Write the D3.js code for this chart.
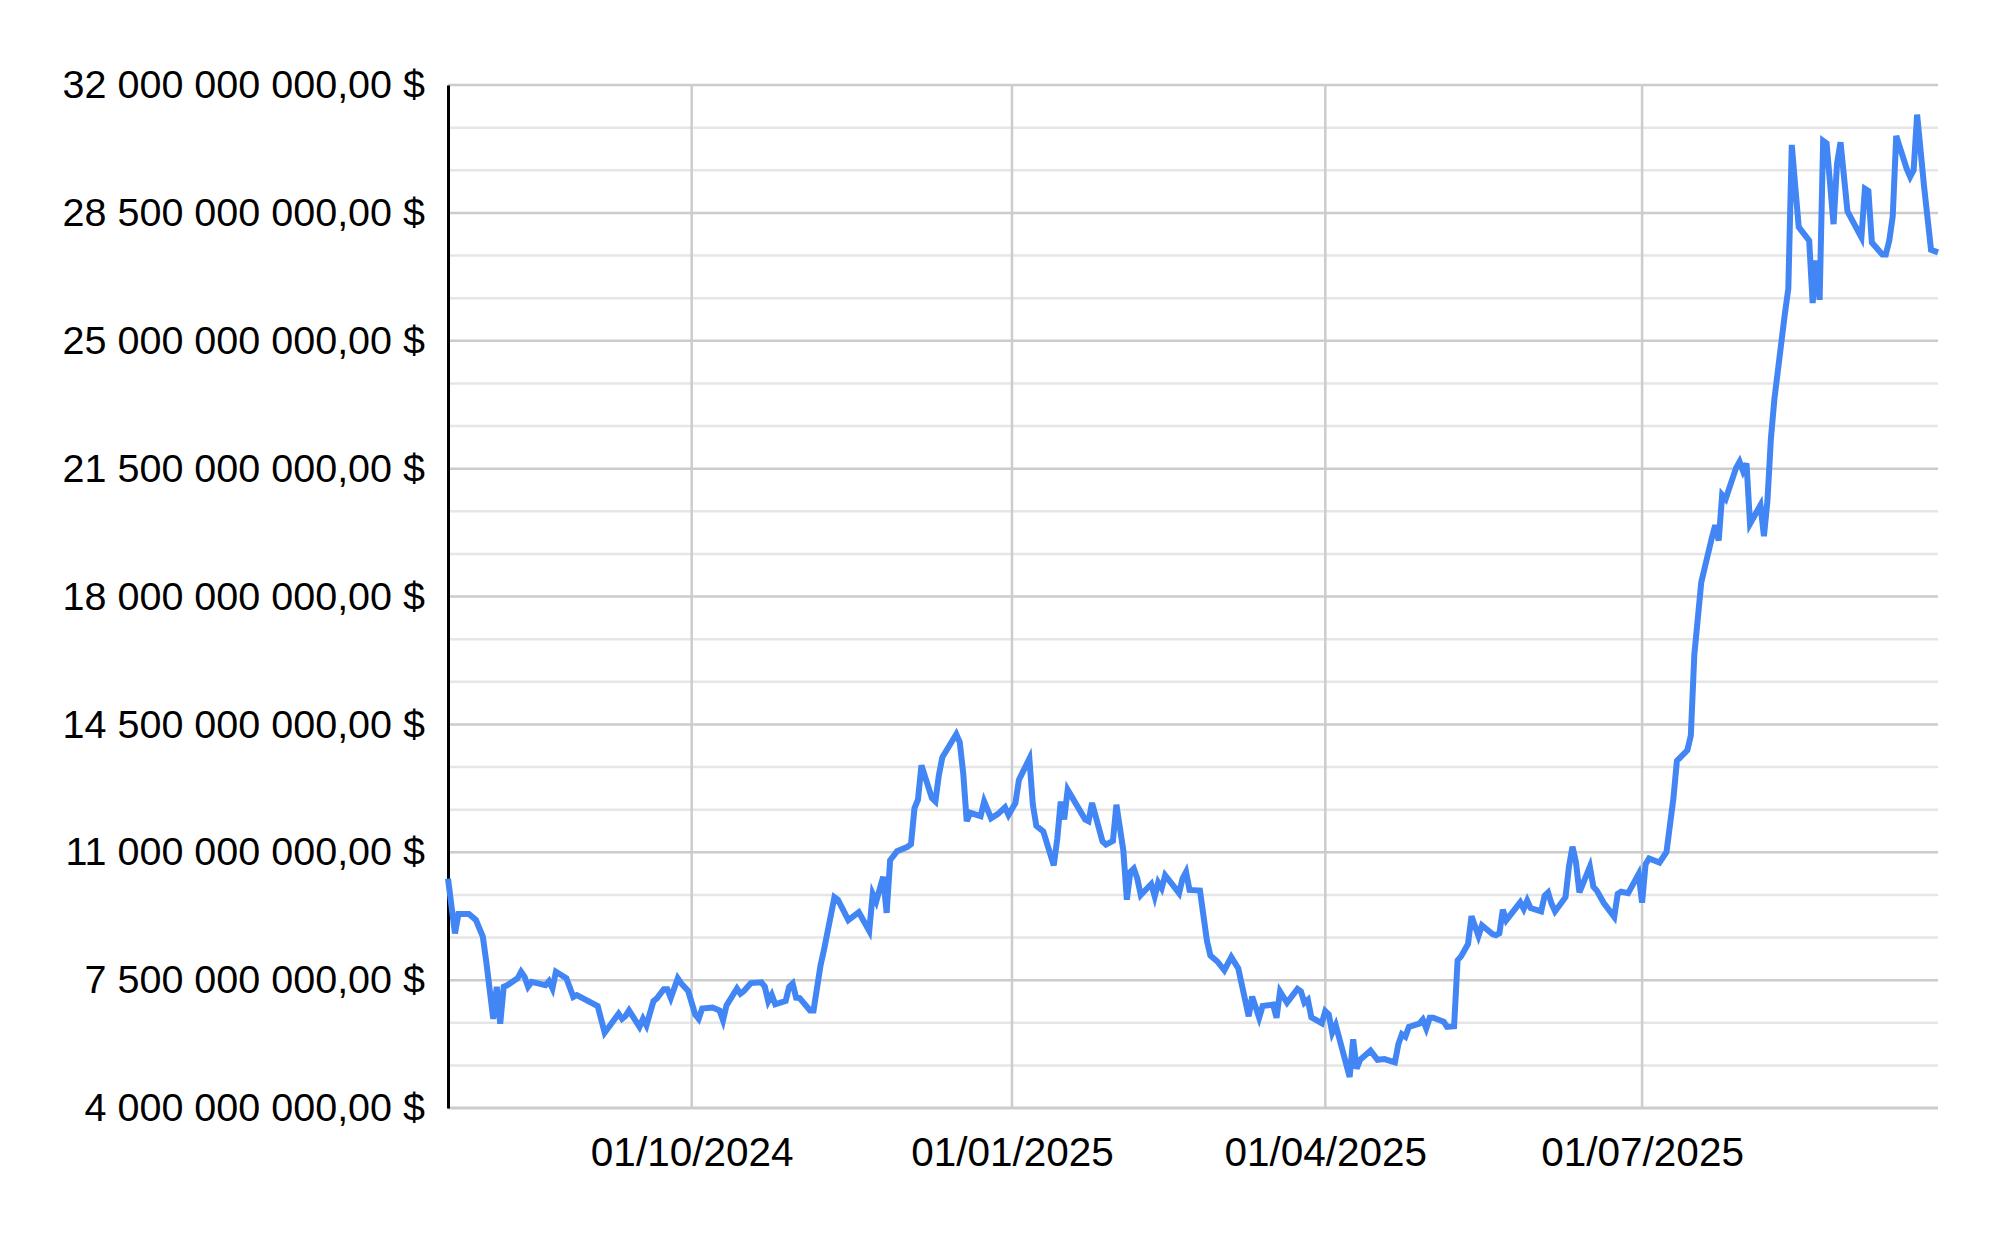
<!DOCTYPE html>
<html>
<head>
<meta charset="utf-8">
<script src="https://cdn.jsdelivr.net/npm/d3@7"></script>
<style>
  body { margin: 0; background: #fff; }
  svg { display: block; }
</style>
</head>
<body>
<div id="chart"></div>
<script>
// daily points (turning points only)
const dates = [
  "2024-07-23","2024-07-25","2024-07-26","2024-07-29","2024-07-31","2024-08-02","2024-08-03","2024-08-05",
  "2024-08-06","2024-08-07","2024-08-08","2024-08-09","2024-08-12","2024-08-13","2024-08-14","2024-08-15",
  "2024-08-16","2024-08-20","2024-08-21","2024-08-22","2024-08-23","2024-08-26","2024-08-28","2024-08-29",
  "2024-09-04","2024-09-06","2024-09-10","2024-09-11","2024-09-12","2024-09-13","2024-09-16","2024-09-17",
  "2024-09-18","2024-09-20","2024-09-21","2024-09-23","2024-09-24","2024-09-25","2024-09-27","2024-09-28",
  "2024-09-30","2024-10-02","2024-10-03","2024-10-04","2024-10-07","2024-10-09","2024-10-10","2024-10-11",
  "2024-10-14","2024-10-15","2024-10-16","2024-10-18","2024-10-21","2024-10-22","2024-10-23","2024-10-24",
  "2024-10-25","2024-10-28","2024-10-29","2024-10-30","2024-10-31","2024-11-01","2024-11-04","2024-11-05",
  "2024-11-07","2024-11-08","2024-11-11","2024-11-12","2024-11-15","2024-11-18","2024-11-21","2024-11-22",
  "2024-11-23","2024-11-25","2024-11-26","2024-11-27","2024-11-29","2024-12-02","2024-12-03","2024-12-04",
  "2024-12-05","2024-12-06","2024-12-09","2024-12-10","2024-12-11","2024-12-12","2024-12-16","2024-12-17",
  "2024-12-18","2024-12-19","2024-12-20","2024-12-23","2024-12-24","2024-12-26","2024-12-28","2024-12-30",
  "2024-12-31","2025-01-02","2025-01-03","2025-01-06","2025-01-07","2025-01-08","2025-01-10","2025-01-13",
  "2025-01-14","2025-01-15","2025-01-16","2025-01-17","2025-01-22","2025-01-23","2025-01-24","2025-01-27",
  "2025-01-28","2025-01-30","2025-01-31","2025-02-02","2025-02-03","2025-02-04","2025-02-05","2025-02-06",
  "2025-02-07","2025-02-10","2025-02-11","2025-02-12","2025-02-13","2025-02-14","2025-02-18","2025-02-19",
  "2025-02-20","2025-02-21","2025-02-24","2025-02-26","2025-02-27","2025-03-01","2025-03-03","2025-03-05",
  "2025-03-07","2025-03-10","2025-03-11","2025-03-13","2025-03-14","2025-03-17","2025-03-18","2025-03-19",
  "2025-03-21","2025-03-24","2025-03-25","2025-03-26","2025-03-27","2025-03-28","2025-03-31","2025-04-01",
  "2025-04-02","2025-04-03","2025-04-04","2025-04-08","2025-04-09","2025-04-10","2025-04-11","2025-04-14",
  "2025-04-16","2025-04-18","2025-04-21","2025-04-22","2025-04-23","2025-04-24","2025-04-25","2025-04-28",
  "2025-04-29","2025-04-30","2025-05-01","2025-05-02","2025-05-05","2025-05-06","2025-05-08","2025-05-09",
  "2025-05-10","2025-05-12","2025-05-13","2025-05-15","2025-05-16","2025-05-19","2025-05-20","2025-05-21",
  "2025-05-22","2025-05-23","2025-05-27","2025-05-28","2025-05-29","2025-05-30","2025-06-02","2025-06-03",
  "2025-06-04","2025-06-05","2025-06-06","2025-06-09","2025-06-10","2025-06-11","2025-06-12","2025-06-13",
  "2025-06-16","2025-06-17","2025-06-18","2025-06-20","2025-06-23","2025-06-24","2025-06-25","2025-06-27",
  "2025-06-30","2025-07-01","2025-07-02","2025-07-03","2025-07-06","2025-07-08","2025-07-10","2025-07-11",
  "2025-07-14","2025-07-15","2025-07-16","2025-07-18","2025-07-19","2025-07-21","2025-07-22","2025-07-23",
  "2025-07-24","2025-07-25","2025-07-28","2025-07-29","2025-07-30","2025-07-31","2025-08-01","2025-08-04",
  "2025-08-05","2025-08-06","2025-08-07","2025-08-08","2025-08-11","2025-08-12","2025-08-13","2025-08-14",
  "2025-08-15","2025-08-18","2025-08-19","2025-08-20","2025-08-21","2025-08-22","2025-08-23","2025-08-25",
  "2025-08-26","2025-08-27","2025-08-29","2025-09-02","2025-09-03","2025-09-04","2025-09-05","2025-09-08",
  "2025-09-09","2025-09-10","2025-09-11","2025-09-12","2025-09-15","2025-09-16","2025-09-17","2025-09-18",
  "2025-09-20","2025-09-22","2025-09-24"
];

// value in billions of $
const values = [
  10.28, 8.78, 9.31, 9.31, 9.15, 8.69, 8.00, 6.44,
  7.32, 6.31, 7.32, 7.36, 7.55, 7.73, 7.59, 7.32,
  7.45, 7.36, 7.47, 7.27, 7.73, 7.55, 7.04, 7.09,
  6.79, 6.06, 6.58, 6.44, 6.52, 6.67, 6.22, 6.44,
  6.26, 6.92, 7.00, 7.25, 7.25, 7.01, 7.55, 7.41,
  7.20, 6.56, 6.44, 6.72, 6.75, 6.67, 6.40, 6.81,
  7.27, 7.13, 7.20, 7.42, 7.44, 7.32, 6.92, 7.10,
  6.84, 6.93, 7.32, 7.41, 7.02, 7.01, 6.67, 6.67,
  7.90, 8.33, 9.77, 9.70, 9.14, 9.36, 8.85, 9.86,
  9.65, 10.33, 9.34, 10.78, 11.03, 11.15, 11.22, 12.21,
  12.44, 13.38, 12.48, 12.39, 13.11, 13.60, 14.23, 14.01,
  13.16, 11.85, 12.08, 11.99, 12.39, 11.93, 12.05, 12.23,
  12.02, 12.35, 12.98, 13.56, 12.30, 11.72, 11.57, 10.64,
  11.36, 12.39, 11.90, 12.71, 11.90, 11.85, 12.35, 11.30,
  11.21, 11.31, 12.30, 11.04, 9.70, 10.46, 10.55, 10.28,
  9.83, 10.13, 9.79, 10.17, 10.01, 10.37, 9.88, 10.28,
  10.46, 9.97, 9.95, 8.58, 8.17, 8.01, 7.77, 8.13,
  7.82, 6.51, 7.05, 6.47, 6.79, 6.83, 6.47, 7.19,
  6.88, 7.26, 7.19, 6.88, 6.96, 6.48, 6.32, 6.65,
  6.56, 6.06, 6.27, 4.85, 5.88, 5.08, 5.32, 5.57,
  5.32, 5.34, 5.25, 5.75, 6.02, 5.95, 6.22, 6.31,
  6.42, 6.18, 6.47, 6.47, 6.36, 6.22, 6.24, 8.04,
  8.15, 8.49, 9.25, 8.71, 9.00, 8.76, 8.73, 8.78,
  9.43, 9.14, 9.63, 9.45, 9.68, 9.47, 9.38, 9.81,
  9.90, 9.59, 9.38, 9.77, 10.61, 11.15, 10.73, 9.90,
  10.60, 10.06, 9.95, 9.61, 9.23, 9.86, 9.92, 9.88,
  10.40, 9.62, 10.67, 10.83, 10.72, 11.00, 12.48, 13.50,
  13.79, 14.19, 16.40, 18.39, 18.79, 19.59, 19.95, 19.53,
  20.78, 20.67, 21.52, 21.69, 21.43, 21.64, 19.99, 20.50,
  19.65, 20.61, 22.32, 23.40, 25.73, 26.42, 30.36, 29.22,
  28.11, 27.74, 26.03, 27.20, 26.12, 30.47, 30.40, 28.19,
  29.85, 30.43, 28.54, 27.83, 29.16, 29.10, 27.69, 27.36,
  27.36, 27.74, 28.41, 30.61, 29.71, 29.49, 29.67, 31.19,
  29.22, 27.49, 27.42
];

// axis ticks
const yTicks = [4, 7.5, 11, 14.5, 18, 21.5, 25, 28.5, 32];
const xTicks = ["2024-10-01", "2025-01-01", "2025-04-01", "2025-07-01"];

const W = 2000, H = 1237;
const margin = {top: 85, right: 62, bottom: 129, left: 448},
    width = W - margin.left - margin.right,
    height = H - margin.top - margin.bottom;

const parse = d3.timeParse("%Y-%m-%d");
const data = dates.map((d, i) => ({date: parse(d), value: values[i]}));

const svg = d3.select("#chart")
  .append("svg")
    .attr("width", W)
    .attr("height", H)
    .style("font-family", "'Liberation Sans', Arial, sans-serif")
  .append("g")
    .attr("transform", `translate(${margin.left}, ${margin.top})`);

// scales
const x = d3.scaleTime()
  .domain(d3.extent(data, d => d.date))
  .range([0, width]);

const y = d3.scaleLinear()
  .domain([yTicks[0], yTicks[yTicks.length - 1]])
  .range([height, 0]);

// minor grid: two lines between each major tick
const minor = [];
for (let i = 0; i < yTicks.length - 1; i++) {
  const step = (yTicks[i + 1] - yTicks[i]) / 3;
  minor.push(yTicks[i] + step, yTicks[i] + 2 * step);
}
svg.append("g").selectAll("line")
  .data(minor)
  .enter().append("line")
    .attr("x1", 0).attr("x2", width)
    .attr("y1", d => y(d)).attr("y2", d => y(d))
    .attr("stroke", "#e6e6e6")
    .attr("stroke-width", 2.5);

// major grid
svg.append("g").selectAll("line")
  .data(yTicks)
  .enter().append("line")
    .attr("x1", 0).attr("x2", width)
    .attr("y1", d => y(d)).attr("y2", d => y(d))
    .attr("stroke", "#cccccc")
    .attr("stroke-width", d => d === yTicks[0] ? 3 : 2.5);

// vertical grid
svg.append("g").selectAll("line")
  .data(xTicks.map(parse))
  .enter().append("line")
    .attr("x1", d => x(d)).attr("x2", d => x(d))
    .attr("y1", 0).attr("y2", height)
    .attr("stroke", "#cccccc")
    .attr("stroke-width", 2.5);

// X axis
const xAxis = svg.append("g")
  .attr("transform", `translate(0, ${height})`)
  .call(d3.axisBottom(x)
    .tickValues(xTicks.map(parse))
    .tickFormat(d3.timeFormat("%d/%m/%Y"))
    .tickSize(0)
    .tickPadding(29));
xAxis.select(".domain").remove();
xAxis.selectAll("text")
  .attr("font-size", 40.5)
  .attr("fill", "#000");

// Y axis
const loc = d3.formatLocale({decimal: ",", thousands: " ", grouping: [3], currency: ["", " $"]});
const fmt = loc.format("$,.2f");
const yAxis = svg.append("g")
  .call(d3.axisLeft(y)
    .tickValues(yTicks)
    .tickFormat(d => fmt(d * 1e9))
    .tickSize(0)
    .tickPadding(23));
yAxis.select(".domain")
  .attr("stroke", "#000")
  .attr("stroke-width", 3);
yAxis.selectAll("text")
  .attr("font-size", 39.5)
  .attr("fill", "#000");

// the line
const line = d3.line()
  .x(d => x(d.date))
  .y(d => y(d.value));

svg.append("path")
  .datum(data)
  .attr("fill", "none")
  .attr("stroke", "#4285f4")
  .attr("stroke-width", 6)
  .attr("d", line);
</script>
</body>
</html>
